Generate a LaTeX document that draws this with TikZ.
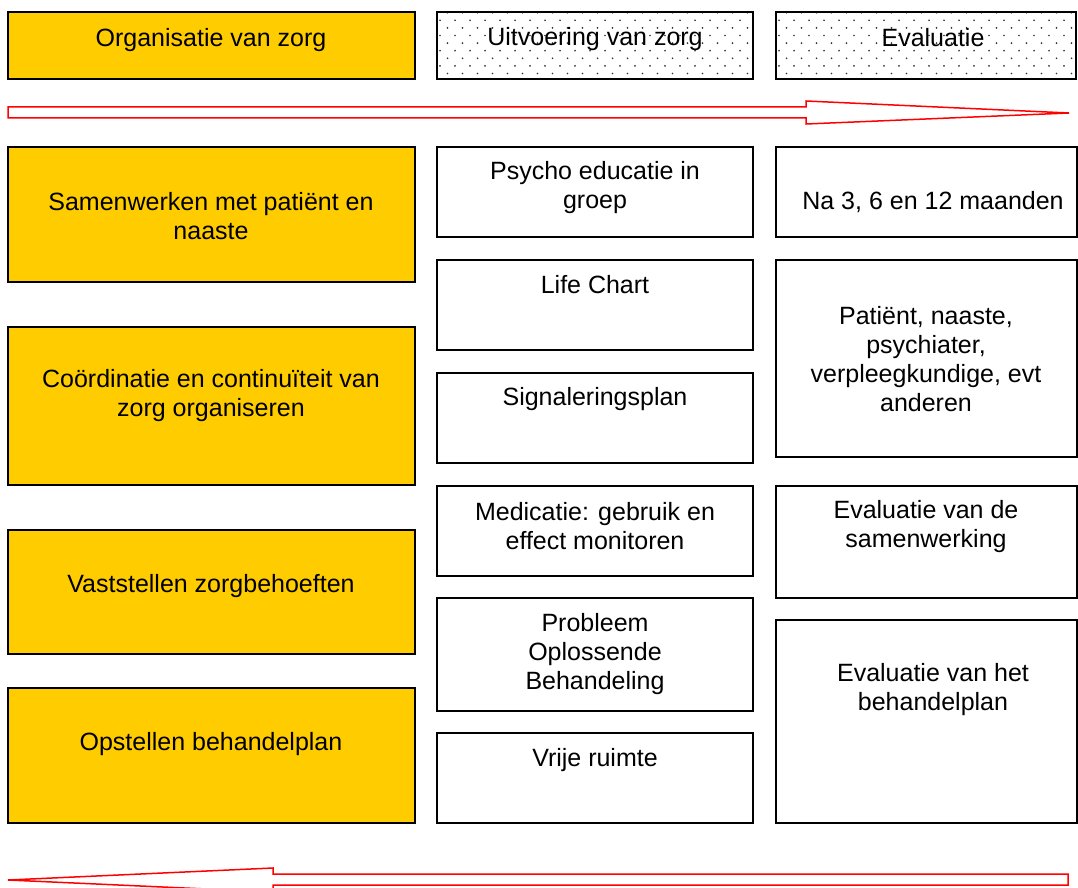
\documentclass[tikz,border=0pt]{standalone}
\usepackage{fontspec}
\setmainfont{Liberation Sans}
\definecolor{zorggeel}{HTML}{FFCC00}
\begin{document}
\begin{tikzpicture}[x=1pt,y=-1pt,
  box/.style={draw=black, line width=1.5pt, rectangle, inner sep=0pt, outer sep=0pt, anchor=north west},
  geel/.style={box, fill=zorggeel},
  wit/.style={box, fill=white},
  txt/.style={align=center, inner sep=0pt, font=\fontsize{25}{29}\selectfont},
  band/.style={draw=red, line width=1.5pt, fill=white, line join=miter},
  stip/.style={fill=black!80}]
\useasboundingbox (0,0) rectangle (1078,888);

% header row
\node[geel, minimum width=407pt, minimum height=67pt] (h1) at (8,12) {};
\node[wit, minimum width=316pt, minimum height=67pt] (h2) at (437,12) {};
\node[wit, minimum width=300pt, minimum height=67pt] (h3) at (776,12) {};

% dotted fill of the two header boxes
\begin{scope}
  \clip (437,12) rectangle (753,79);
  \foreach \r [evaluate=\r as \yy using 12.7+\r*7.6, evaluate=\r as \dx using {mod(\r+1,2)*7.5}] in {0,...,9}
    \foreach \c in {0,...,21}
      \fill[stip] ({440+\dx+\c*15},\yy) circle (0.95);
\end{scope}
\begin{scope}
  \clip (776,12) rectangle (1076,79);
  \foreach \r [evaluate=\r as \yy using 12.7+\r*7.6, evaluate=\r as \dx using {mod(\r+1,2)*7.5}] in {0,...,9}
    \foreach \c in {0,...,20}
      \fill[stip] ({779+\dx+\c*15},\yy) circle (0.95);
\end{scope}
\draw[line width=1.5pt] (437,12) rectangle (753,79);
\draw[line width=1.5pt] (776,12) rectangle (1076,79);

\node[txt] (th1) at (211,40) {Organisatie van zorg};
\node[txt] (th2) at (595,39) {Uitvoering van zorg};
\node[txt] (th3) at (933,38) {Evaluatie};

% direction arrows
\draw[band] (8,107) -- (806,107) -- (806,101) -- (1069,113) -- (806,124) -- (806,118) -- (8,118) -- cycle;
\draw[band] (1068,874) -- (273,874) -- (273,868) -- (8,880) -- (273,892) -- (273,885) -- (1068,885) -- cycle;

% left column
\node[geel, minimum width=407pt, minimum height=135pt] (l1) at (8,147) {};
\node[geel, minimum width=407pt, minimum height=158pt] (l2) at (8,327) {};
\node[geel, minimum width=407pt, minimum height=124pt] (l3) at (8,530) {};
\node[geel, minimum width=407pt, minimum height=135pt] (l4) at (8,688) {};
\node[txt] (tl1) at (211,216) {Samenwerken met patiënt en\\naaste};
\node[txt] (tl2) at (211,396) {Coördinatie en continuïteit van\\zorg organiseren};
\node[txt] (tl3) at (211,586) {Vaststellen zorgbehoeften};
\node[txt] (tl4) at (211,744) {Opstellen behandelplan};

% middle column
\node[wit, minimum width=316pt, minimum height=90pt] (m1) at (437,147) {};
\node[wit, minimum width=316pt, minimum height=90pt] (m2) at (437,260) {};
\node[wit, minimum width=316pt, minimum height=90pt] (m3) at (437,373) {};
\node[wit, minimum width=316pt, minimum height=90pt] (m4) at (437,486) {};
\node[wit, minimum width=316pt, minimum height=113pt] (m5) at (437,598) {};
\node[wit, minimum width=316pt, minimum height=90pt] (m6) at (437,733) {};
\node[txt] (tm1) at (595,188) {Psycho educatie in\\groep};
\node[txt] (tm2) at (595,285) {Life Chart};
\node[txt] (tm3) at (595,399) {Signaleringsplan};
\node[txt] (tm4) at (595,526) {Medicatie: gebruik en\\effect monitoren};
\node[txt] (tm5) at (595,654) {Probleem\\Oplossende\\Behandeling};
\node[txt] (tm6) at (595,760) {Vrije ruimte};

% right column
\node[wit, minimum width=301pt, minimum height=90pt] (r1) at (776,147) {};
\node[wit, minimum width=301pt, minimum height=197pt] (r2) at (776,260) {};
\node[wit, minimum width=301pt, minimum height=112pt] (r3) at (776,486) {};
\node[wit, minimum width=301pt, minimum height=203pt] (r4) at (776,620) {};
\node[txt] (tr1) at (933,202) {Na 3, 6 en 12 maanden};
\node[txt] (tr2) at (926,359) {Patiënt, naaste,\\psychiater,\\verpleegkundige, evt\\anderen};
\node[txt] (tr3) at (926,527) {Evaluatie van de\\samenwerking};
\node[txt] (tr4) at (933,690) {Evaluatie van het\\behandelplan};
\end{tikzpicture}
\end{document}
